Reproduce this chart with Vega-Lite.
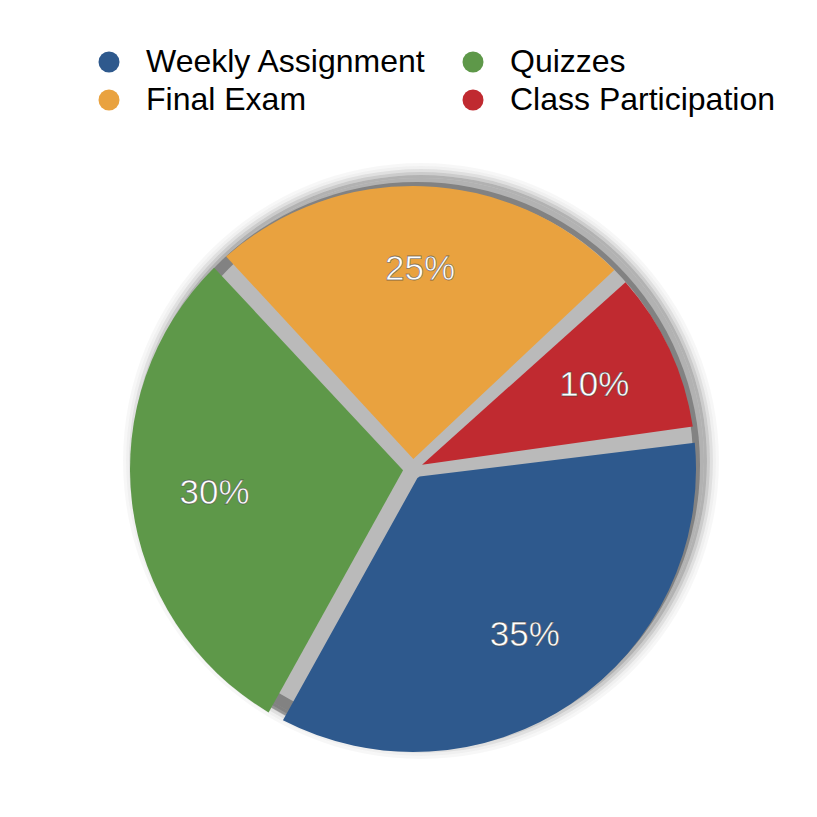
{
  "$schema": "https://vega.github.io/schema/vega-lite/v6.json",
  "width": 808,
  "height": 696,
  "autosize": {"type": "none"},
  "padding": {"left": 9, "top": 121, "right": 0, "bottom": 0},
  "background": "white",
  "config": {"view": {"stroke": null}},
  "datasets": {
    "slices": [
      {"category": "Weekly Assignment", "value": 35, "label": "35%"},
      {"category": "Quizzes", "value": 30, "label": "30%"},
      {"category": "Final Exam", "value": 25, "label": "25%"},
      {"category": "Class Participation", "value": 10, "label": "10%"}
    ]
  },
  "layer": [
    {
      "data": {"values": [{}]},
      "mark": {"type": "arc", "theta": 0, "theta2": 6.2832, "innerRadius": 0, "outerRadius": 283, "fill": "black", "opacity": 0.27, "x": {"expr": "width/2+4"}, "y": {"expr": "height/2-4"}},
      "encoding": {}
    },
    {
      "data": {"values": [{}]},
      "mark": {"type": "arc", "theta": 0, "theta2": 6.2832, "innerRadius": 272, "outerRadius": 283, "fill": "black", "opacity": 0.3, "x": {"expr": "width/2+8"}, "y": {"expr": "height/2-8"}},
      "encoding": {}
    },
    {
      "data": {"values": [{}]},
      "mark": {"type": "arc", "theta": 0, "theta2": 6.2832, "innerRadius": 283, "outerRadius": 286, "fill": "black", "opacity": 0.3, "x": {"expr": "width/2+8"}, "y": {"expr": "height/2-8"}},
      "encoding": {}
    },
    {
      "data": {"values": [{}]},
      "mark": {"type": "arc", "theta": 0, "theta2": 6.2832, "innerRadius": 286, "outerRadius": 289, "fill": "black", "opacity": 0.2, "x": {"expr": "width/2+8"}, "y": {"expr": "height/2-8"}},
      "encoding": {}
    },
    {
      "data": {"values": [{}]},
      "mark": {"type": "arc", "theta": 0, "theta2": 6.2832, "innerRadius": 289, "outerRadius": 292, "fill": "black", "opacity": 0.12, "x": {"expr": "width/2+8"}, "y": {"expr": "height/2-8"}},
      "encoding": {}
    },
    {
      "data": {"values": [{}]},
      "mark": {"type": "arc", "theta": 0, "theta2": 6.2832, "innerRadius": 292, "outerRadius": 295, "fill": "black", "opacity": 0.06, "x": {"expr": "width/2+8"}, "y": {"expr": "height/2-8"}},
      "encoding": {}
    },
    {
      "data": {"values": [{}]},
      "mark": {"type": "arc", "theta": 0, "theta2": 6.2832, "innerRadius": 295, "outerRadius": 298, "fill": "black", "opacity": 0.03, "x": {"expr": "width/2+8"}, "y": {"expr": "height/2-8"}},
      "encoding": {}
    },
    {
      "data": {"name": "slices"},
      "mark": {"type": "arc", "innerRadius": 10, "outerRadius": 283, "padAngle": 0.058},
      "encoding": {
        "theta": {"field": "value", "type": "quantitative", "stack": true, "scale": {"range": [1.449, 7.732]}},
        "order": {"field": "value", "sort": "descending"},
        "color": {
          "field": "category",
          "type": "nominal",
          "scale": {
            "domain": ["Weekly Assignment", "Final Exam", "Quizzes", "Class Participation"],
            "range": ["#2E598D", "#E9A23F", "#5E9849", "#C02A30"]
          },
          "legend": {
            "orient": "none",
            "legendX": 84,
            "legendY": -75,
            "columns": 2,
            "title": null,
            "symbolType": "circle",
            "symbolSize": 441,
            "symbolStrokeWidth": 0,
            "labelFont": "Liberation Sans",
            "labelFontSize": 32,
            "labelColor": "#000000",
            "labelLimit": 500,
            "labelOffset": 21,
            "columnPadding": 30,
            "rowPadding": 6,
            "padding": 0
          }
        }
      }
    },
    {
      "data": {"name": "slices"},
      "mark": {"type": "text", "radius": 200, "font": "Liberation Sans", "fontSize": 35, "fill": "#ffffff", "stroke": "#3a3a3a", "strokeWidth": 0.8, "strokeOpacity": 0.6, "align": "center", "baseline": "middle"},
      "encoding": {
        "theta": {"field": "value", "type": "quantitative", "stack": true},
        "order": {"field": "value", "sort": "descending"},
        "text": {"field": "label", "type": "nominal"}
      }
    }
  ]
}
